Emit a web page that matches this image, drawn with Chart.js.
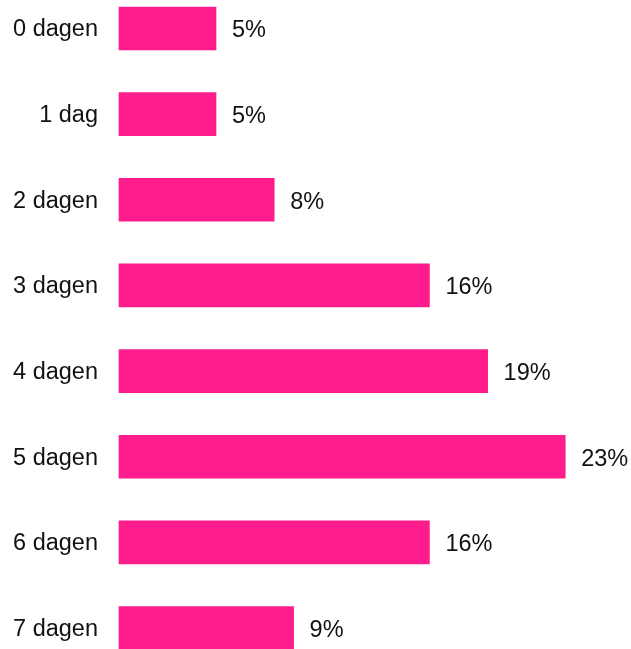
<!DOCTYPE html>
<html>
<head>
<meta charset="utf-8">
<script src="https://cdn.jsdelivr.net/npm/chart.js@4.4.1/dist/chart.umd.min.js"></script>
<style>
html,body{margin:0;padding:0;background:#fff;}
canvas{display:block;}
</style>
</head>
<body>
<canvas id="c" width="631" height="649"></canvas>
<script>
const categories = ["0 dagen", "1 dag", "2 dagen", "3 dagen", "4 dagen", "5 dagen", "6 dagen", "7 dagen"];
const values = [5, 5, 8, 16, 19, 23, 16, 9];
const valueLabels = ["5%", "5%", "8%", "16%", "19%", "23%", "16%", "9%"];

const FONT = '"Liberation Sans", Arial, sans-serif';

const labelPlugin = {
  id: 'valueLabels',
  afterDatasetsDraw(chart) {
    const ctx = chart.ctx;
    const meta = chart.getDatasetMeta(0);
    ctx.save();
    ctx.font = '23.5px ' + FONT;
    ctx.fillStyle = '#111';
    ctx.textAlign = 'left';
    ctx.textBaseline = 'middle';
    meta.data.forEach((bar, i) => {
      ctx.fillText(valueLabels[i], bar.x + 16, bar.y + 2.5);
    });
    ctx.restore();
  }
};

new Chart(document.getElementById('c'), {
  type: 'bar',
  data: {
    labels: categories,
    datasets: [{
      data: values,
      backgroundColor: '#ff1c8c',
      borderWidth: 0,
      barThickness: 43,
      clip: false
    }]
  },
  options: {
    indexAxis: 'y',
    responsive: false,
    animation: false,
    layout: { padding: { top: 28.5, bottom: 21, left: 0, right: 0 } },
    plugins: { legend: { display: false }, tooltip: { enabled: false } },
    scales: {
      x: { display: false, min: 0, max: 26.39 },
      y: {
        offset: false,
        grid: { display: false, drawTicks: false },
        border: { display: false },
        ticks: { padding: 21, labelOffset: 1.5, color: '#111', font: { family: FONT, size: 23.5 } },
        afterFit(scale) {
          scale.width = 119;
          scale.paddingTop = 0;
          scale.paddingBottom = 0;
        }
      }
    }
  },
  plugins: [labelPlugin]
});
</script>
</body>
</html>
